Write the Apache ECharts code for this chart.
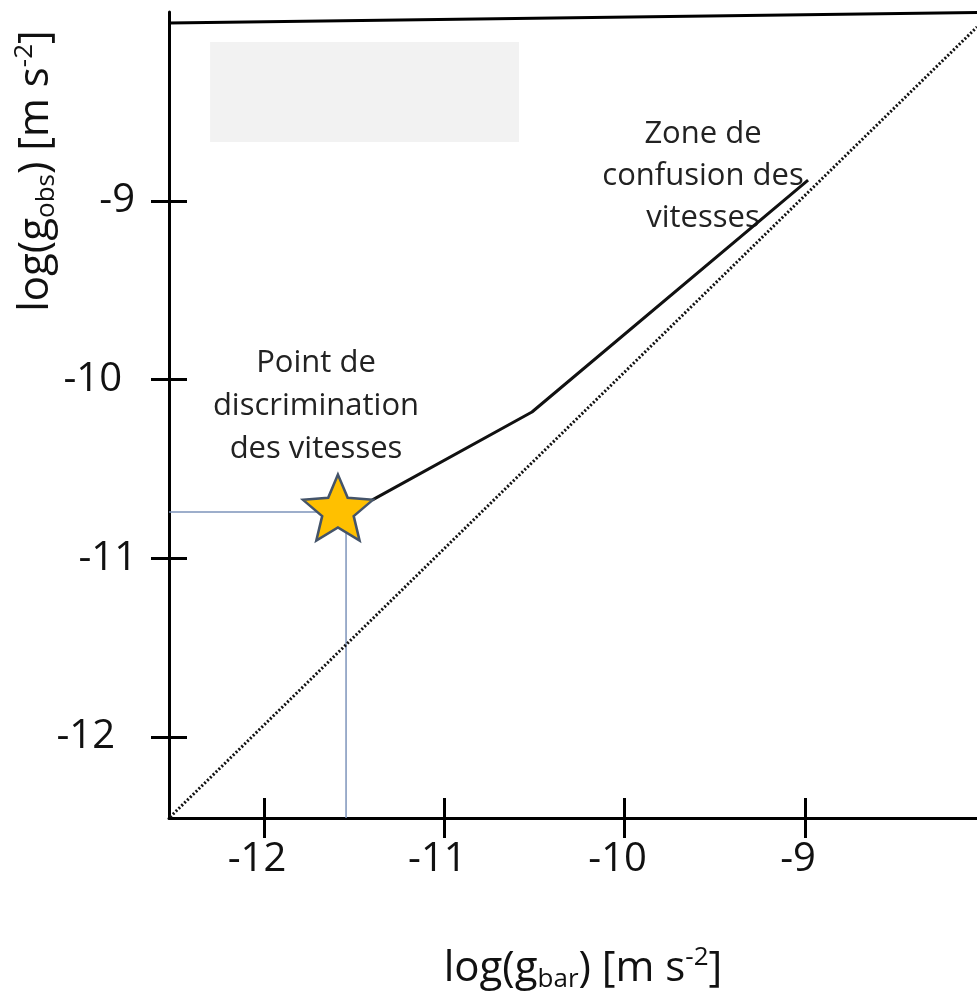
<!DOCTYPE html>
<html>
<head>
<meta charset="utf-8">
<script src="https://cdn.jsdelivr.net/npm/echarts@6/dist/echarts.min.js"></script>
<style>
html,body{margin:0;padding:0;background:#fff;}
#chart{width:977px;height:992px;}
</style>
</head>
<body>
<div id="chart"></div>
<script>
// ---- data ----
const xTicks = [-12, -11, -10, -9];
const yTicks = [-12, -11, -10, -9];
const xRange = [-12.5268, -8.0462];
const yRange = [-12.4534, -7.9422];
const oneToOneLine = [[-12.521, -12.448], [-8.046, -8.026]];
const trendLine = [[-11.401, -10.674], [-10.514, -10.181], [-8.983, -8.883]];
const discriminationPoint = [[-11.590, -10.716]];
const guideLines = [[-12.527, -10.741], [-11.545, -10.741], [-11.545, -12.453]];
const greyBox = [[-12.299, -8.110], [-10.586, -8.670]];
const topBorder = [[-12.527, -8.004], [-8.046, -7.945]];
const zoneLabel = 'Zone de\nconfusion des\nvitesses';
const pointLabel = 'Point de\ndiscrimination\ndes vitesses';

const FONT = 'Open Sans';
const TXT = '#111';
const starPath = 'path://M50,0 L63.23,31.8 L97.55,34.55 L71.4,56.95 L79.39,90.45 L50,72.5 L20.61,90.45 L28.6,56.95 L2.45,34.55 L36.77,31.8 Z';

const chart = echarts.init(document.getElementById('chart'), null, {renderer: 'canvas'});

const tickStyle = {color: '#000', width: 3};
const yRich = {
  y9: {fontSize: 40, fontFamily: FONT, color: TXT, padding: [0, 2, 0, 0]},
  y10: {fontSize: 40, fontFamily: FONT, color: TXT, padding: [0, 15, 0, 0]},
  y11: {fontSize: 40, fontFamily: FONT, color: TXT, padding: [0, 0, 0, 0]},
  y12: {fontSize: 40, fontFamily: FONT, color: TXT, padding: [0, 22, 0, 0]}
};

const option = {
  animation: false,
  backgroundColor: '#fff',
  grid: {left: 169, top: 12, right: 0, bottom: 174, containLabel: false},
  xAxis: [
    {
      type: 'value', min: xRange[0], max: xRange[1], position: 'bottom',
      splitLine: {show: false},
      axisLine: {show: true, onZero: false, lineStyle: {color: '#000', width: 3}},
      axisTick: {show: true, customValues: xTicks, length: 20, inside: false, lineStyle: tickStyle},
      axisLabel: {
        show: true, customValues: xTicks, margin: 22,
        formatter: v => '{x|' + v + '}',
        rich: {x: {fontSize: 40, fontFamily: FONT, color: TXT, padding: [0, 14, 0, 0]}}
      }
    },
    {
      type: 'value', min: xRange[0], max: xRange[1], position: 'bottom',
      splitLine: {show: false},
      axisLine: {show: false, onZero: false},
      axisTick: {show: true, customValues: xTicks, length: 20, inside: true, lineStyle: tickStyle},
      axisLabel: {show: false}
    }
  ],
  yAxis: [
    {
      type: 'value', min: yRange[0], max: yRange[1], position: 'left',
      splitLine: {show: false},
      axisLine: {show: true, onZero: false, lineStyle: {color: '#000', width: 3}},
      axisTick: {show: true, customValues: yTicks, length: 18, inside: false, lineStyle: tickStyle},
      axisLabel: {
        show: true, customValues: yTicks, margin: 32,
        formatter: v => '{y' + Math.abs(v) + '|' + v + '}',
        rich: yRich
      }
    },
    {
      type: 'value', min: yRange[0], max: yRange[1], position: 'left',
      splitLine: {show: false},
      axisLine: {show: false, onZero: false},
      axisTick: {show: true, customValues: yTicks, length: 18, inside: true, lineStyle: tickStyle},
      axisLabel: {show: false}
    }
  ],
  series: [
    {
      type: 'line', xAxisIndex: 0, yAxisIndex: 0, data: [], silent: true,
      markArea: {
        silent: true,
        itemStyle: {color: '#f2f2f2'},
        data: [[{coord: greyBox[0]}, {coord: greyBox[1]}]]
      }
    },
    {
      type: 'line', data: oneToOneLine, showSymbol: false, symbol: 'none', silent: true,
      lineStyle: {color: '#111', width: 3, type: [2, 2]}
    },
    {
      type: 'line', data: guideLines, showSymbol: false, symbol: 'none', silent: true, z: 2,
      lineStyle: {color: '#7d94bb', width: 1.5}
    },
    {
      type: 'line', data: trendLine, showSymbol: false, symbol: 'none', silent: true, z: 3,
      lineStyle: {color: '#111', width: 3}
    },
    {
      type: 'scatter', data: discriminationPoint, symbol: starPath, symbolSize: [70, 66], silent: true, z: 6,
      itemStyle: {color: '#FFC000', borderColor: '#44546a', borderWidth: 2.5, opacity: 1}
    },
    {
      type: 'line', data: topBorder, showSymbol: false, symbol: 'none', silent: true, clip: false,
      lineStyle: {color: '#000', width: 3}
    }
  ],
  graphic: [
    {
      type: 'text', x: 703, y: 176, silent: true,
      style: {text: zoneLabel, fontSize: 31, fontFamily: FONT, lineHeight: 42, fill: '#222', align: 'center', verticalAlign: 'middle'}
    },
    {
      type: 'text', x: 316, y: 406, silent: true,
      style: {text: pointLabel, fontSize: 31, fontFamily: FONT, lineHeight: 43, fill: '#222', align: 'center', verticalAlign: 'middle'}
    },
    {
      type: 'text', x: 583, y: 969, silent: true,
      style: {
        text: '{n|log(g}{sub|bar}{n|) [m s}{sup|-2}{n|]}',
        align: 'center', verticalAlign: 'middle',
        rich: {
          n: {fontSize: 42, fontFamily: FONT, fill: TXT, lineHeight: 48},
          sub: {fontSize: 26, fontFamily: FONT, fill: TXT, lineHeight: 25, verticalAlign: 'bottom'},
          sup: {fontSize: 26, fontFamily: FONT, fill: TXT, lineHeight: 37, verticalAlign: 'top'}
        }
      }
    },
    {
      type: 'text', x: 36, y: 171, rotation: Math.PI / 2, silent: true,
      style: {
        text: '{n|log(g}{sub|obs}{n|) [m s}{sup|-2}{n|]}',
        align: 'center', verticalAlign: 'middle',
        rich: {
          n: {fontSize: 42, fontFamily: FONT, fill: TXT, lineHeight: 48},
          sub: {fontSize: 26, fontFamily: FONT, fill: TXT, lineHeight: 25, verticalAlign: 'bottom'},
          sup: {fontSize: 26, fontFamily: FONT, fill: TXT, lineHeight: 37, verticalAlign: 'top'}
        }
      }
    }
  ]
};
chart.setOption(option);
</script>
</body>
</html>
